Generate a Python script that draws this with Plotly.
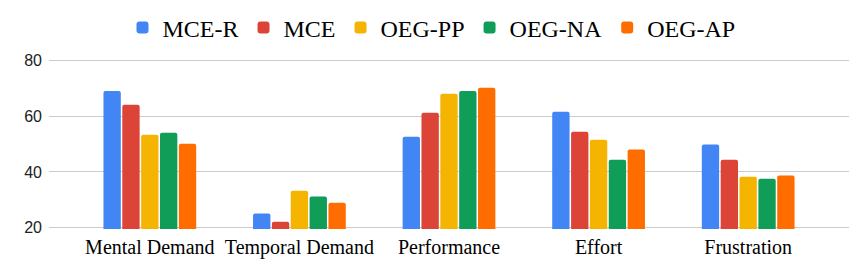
import plotly.graph_objects as go

categories = ["Mental Demand", "Temporal Demand", "Performance", "Effort", "Frustration"]
series_names = ["MCE-R", "MCE", "OEG-PP", "OEG-NA", "OEG-AP"]
mce_r = [69.0, 25.1, 52.6, 61.5, 49.8]
mce = [64.0, 22.2, 61.2, 54.4, 44.4]
oeg_pp = [53.3, 33.3, 68.0, 51.5, 38.3]
oeg_na = [54.0, 31.2, 69.0, 44.4, 37.6]
oeg_ap = [50.1, 29.0, 70.1, 48.0, 38.7]
colors = ["#4285F4", "#DB4437", "#F4B400", "#0F9D58", "#FF6D01"]
y_ticks = [20, 40, 60, 80]

fig = go.Figure()
for name, vals, c in zip(series_names, [mce_r, mce, oeg_pp, oeg_na, oeg_ap], colors):
    fig.add_trace(go.Bar(name=name, x=categories, y=vals, marker_color=c,
                         marker_line_width=0))

fig.update_layout(
    width=863, height=275,
    margin=dict(l=49, r=14, t=59, b=46, autoexpand=False),
    paper_bgcolor="white", plot_bgcolor="white",
    barmode="group", bargap=0.37, bargroupgap=0.08, barcornerradius=2,
    legend=dict(orientation="h", x=0.5, xref="container", xanchor="center",
                y=1 - 28 / 275, yref="container", yanchor="middle",
                font=dict(family="Liberation Serif", size=24, color="#000"),
                itemwidth=30, tracegroupgap=0),
    xaxis=dict(range=[-0.674, 4.674], showgrid=False, zeroline=False,
               tickfont=dict(family="Liberation Serif", size=20, color="#000"),
               ticks="", showline=False, ticklabelstandoff=4),
    yaxis=dict(range=[19.6, 80.4], tickvals=y_ticks, showgrid=True, gridcolor="#cccccc",
               gridwidth=1, zeroline=False, ticks="",
               tickfont=dict(family="Liberation Sans", size=16, color="#222"),
               ticklabelstandoff=6),
)
fig.write_html("out.html", config={"displayModeBar": False},
               post_script="document.body.style.margin='0';document.body.style.padding='0';")
